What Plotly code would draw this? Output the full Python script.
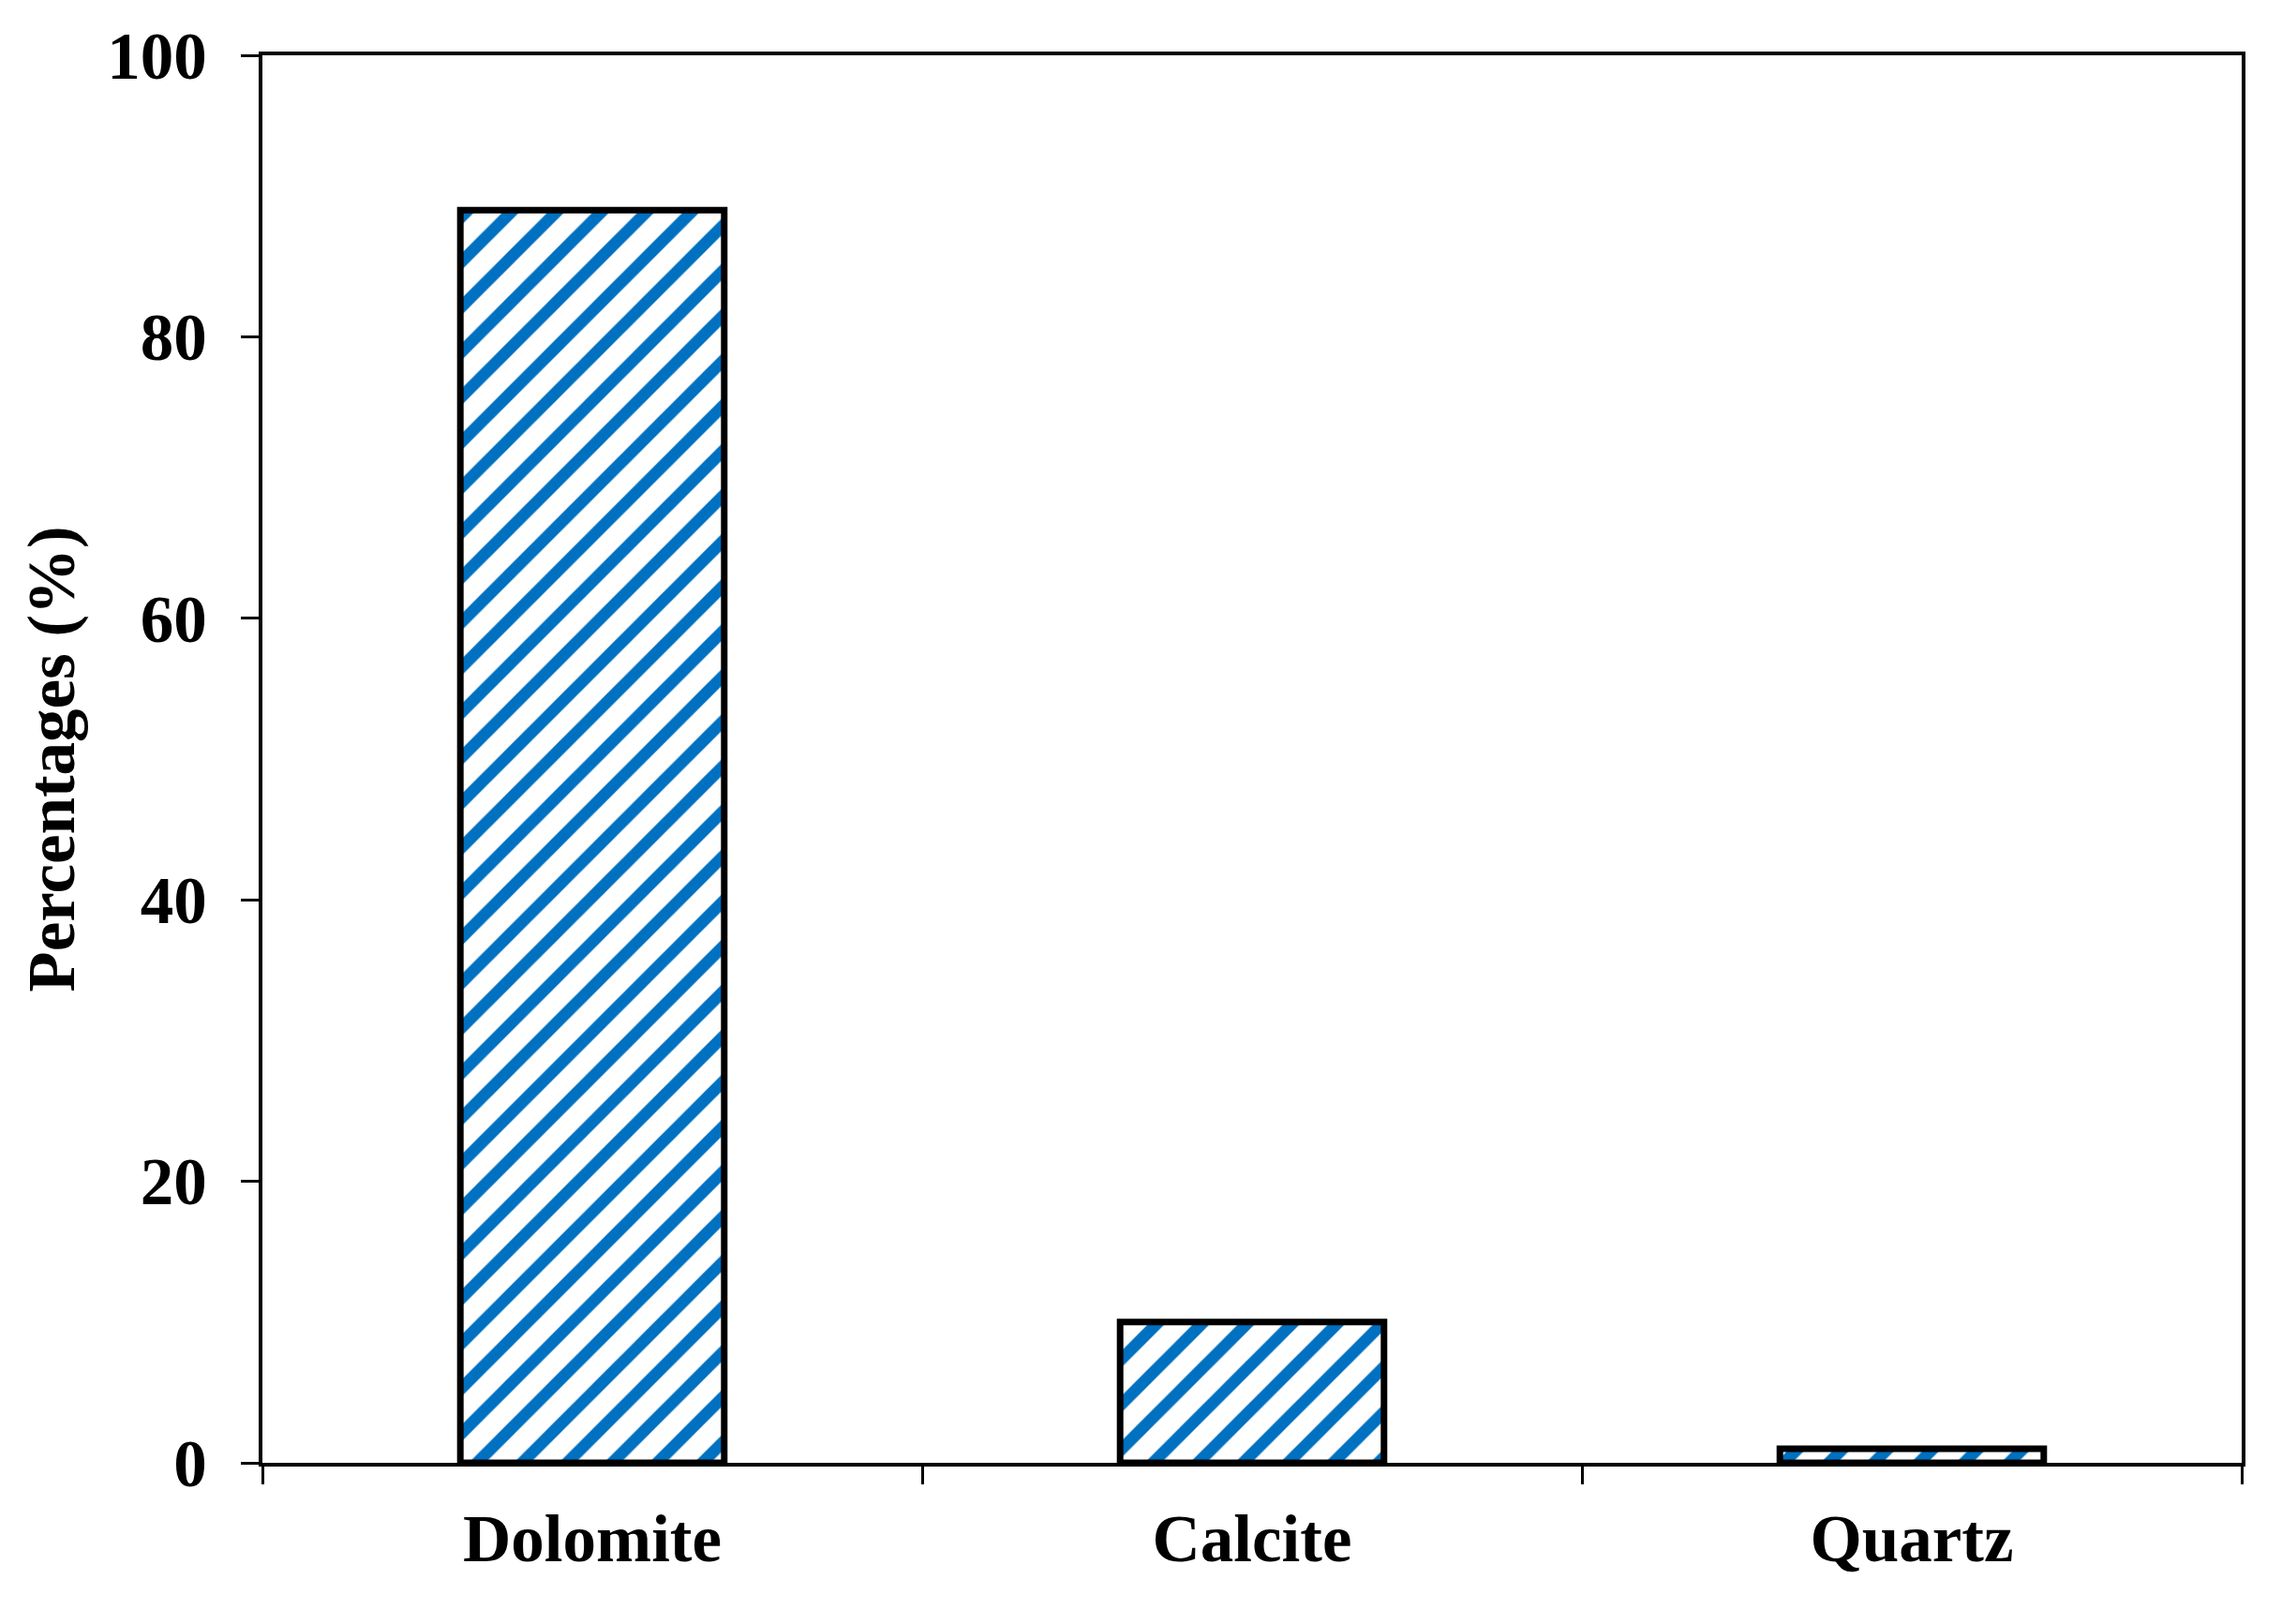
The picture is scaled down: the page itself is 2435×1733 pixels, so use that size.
import plotly.graph_objects as go

categories = ["Dolomite", "Calcite", "Quartz"]
percentages = [89, 10, 1]
y_ticks = [0, 20, 40, 60, 80, 100]

FONT = "Liberation Serif, Times New Roman, serif"

fig = go.Figure()
fig.add_trace(go.Bar(
    x=categories,
    y=percentages,
    width=0.4,
    marker=dict(
        color="white",
        line=dict(color="black", width=7),
        pattern=dict(shape="/", fgcolor="#0070C0", bgcolor="white",
                     fgopacity=1, size=34, solidity=0.37, fillmode="overlay"),
    ),
    showlegend=False,
))

axis_font = dict(family=FONT, size=71, color="black", weight="bold")

fig.update_layout(
    width=2435, height=1733,
    margin=dict(l=272, r=51, t=51, b=180),
    paper_bgcolor="white", plot_bgcolor="white",
    xaxis=dict(
        type="category",
        tickson="boundaries",
        ticks="outside", ticklen=19, tickwidth=3, tickcolor="black",
        showline=True, linecolor="black", linewidth=4, mirror=True,
        showgrid=False, zeroline=False,
        tickfont=axis_font,
        ticklabelstandoff=16,
        range=[-0.5, 2.5],
    ),
    yaxis=dict(
        range=[0, 100],
        tickvals=y_ticks,
        ticks="outside", ticklen=19, tickwidth=3, tickcolor="black",
        showline=True, linecolor="black", linewidth=4, mirror=True,
        showgrid=False, zeroline=False,
        tickfont=axis_font,
        ticklabelstandoff=22,
        title=dict(text="Percentages (%)", font=axis_font, standoff=12),
    ),
)

fig.write_html("out.html")
